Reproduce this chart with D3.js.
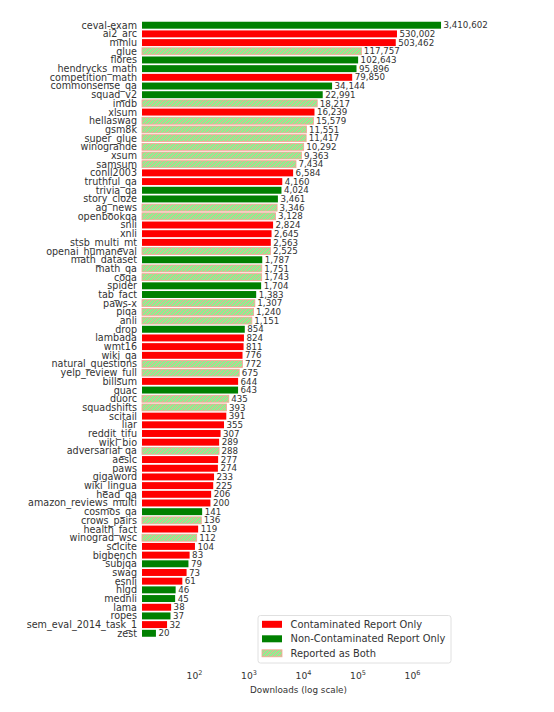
<!DOCTYPE html>
<html><head><meta charset="utf-8">
<script src="https://cdn.jsdelivr.net/npm/d3@7/dist/d3.min.js"></script>
<style>body{margin:0;background:#fff;font-family:"DejaVu Sans",sans-serif;}</style>
</head><body><svg id="chart" width="554" height="712"></svg>
<script>
const names = ["ceval-exam","ai2_arc","mmlu","glue","flores","hendrycks_math","competition_math","commonsense_qa","squad_v2","imdb","xlsum","hellaswag","gsm8k","super_glue","winogrande","xsum","samsum","conll2003","truthful_qa","trivia_qa","story_cloze","ag_news","openbookqa","snli","xnli","stsb_multi_mt","openai_humaneval","math_dataset","math_qa","coqa","spider","tab_fact","paws-x","piqa","anli","drop","lambada","wmt16","wiki_qa","natural_questions","yelp_review_full","billsum","quac","duorc","squadshifts","scitail","liar","reddit_tifu","wiki_bio","adversarial_qa","aeslc","paws","gigaword","wiki_lingua","head_qa","amazon_reviews_multi","cosmos_qa","crows_pairs","health_fact","winograd_wsc","scicite","bigbench","subjqa","swag","esnli","hlgd","mednli","lama","ropes","sem_eval_2014_task_1","zest"];
const downloads = [3410602,530002,503462,117757,102643,95896,79850,34144,22991,18217,16239,15579,11551,11417,10292,9363,7434,6584,4160,4024,3461,3346,3128,2824,2645,2563,2525,1787,1751,1743,1704,1383,1307,1240,1151,854,824,811,776,772,675,644,643,435,393,391,355,307,289,288,277,274,233,225,206,200,141,136,119,112,104,83,79,73,61,46,45,38,37,32,20];
// C = Contaminated Report Only, N = Non-Contaminated Report Only, B = Reported as Both
const status = ["N","C","C","B","N","N","C","N","N","B","C","B","B","B","B","B","B","C","C","N","N","B","B","C","C","C","B","N","B","B","N","N","B","B","B","N","C","C","C","B","B","C","N","B","B","C","C","C","C","B","C","C","C","C","C","C","N","B","C","B","C","C","N","C","C","N","N","C","N","C","N"];
const legendLabels = ["Contaminated Report Only","Non-Contaminated Report Only","Reported as Both"];
const legendKeys = ["C","N","B"];
const tickValues = [1e2,1e3,1e4,1e5,1e6];
const tickExponents = ["2","3","4","5","6"];

const data = names.map((n,i)=>({name:n, value:downloads[i], status:status[i]}));
const svg = d3.select("#chart");
const textColor = "#333";
const hatchColor = "#f7a293";

const defs = svg.append("defs");
const pat = defs.append("pattern").attr("id","hatch").attr("patternUnits","userSpaceOnUse")
  .attr("width",4).attr("height",4);
pat.append("rect").attr("width",4).attr("height",4).attr("fill","#90ee90");
pat.append("path").attr("d","M-1,1 l2,-2 M0,4 l4,-4 M3,5 l2,-2").attr("stroke",hatchColor).attr("stroke-width",0.9);

const fillFor = s => s==="C" ? "#ff0000" : s==="N" ? "#008000" : "url(#hatch)";
const strokeFor = s => s==="B" ? hatchColor : "none";

const x = d3.scaleLog().domain([11.1, 1e6]).range([142, 412]);
const y = d3.scaleBand().domain(names).range([20, 638.5]).padding(0.2);

svg.append("g").selectAll("rect").data(data).join("rect")
  .attr("x", x(11.1))
  .attr("y", d=>y(d.name))
  .attr("width", d=>x(d.value)-x(11.1))
  .attr("height", y.bandwidth())
  .attr("fill", d=>fillFor(d.status))
  .attr("stroke", d=>strokeFor(d.status))
  .attr("stroke-width", 0.8);

svg.append("g").selectAll("text").data(data).join("text")
  .attr("x", 137)
  .attr("y", d=>y(d.name)+y.bandwidth()/2)
  .attr("dy","0.36em")
  .attr("text-anchor","end")
  .attr("font-size","9.6px")
  .attr("fill", textColor)
  .text(d=>d.name);

const fmt = d3.format(",");
svg.append("g").selectAll("text").data(data).join("text")
  .attr("x", d=>x(d.value)+2.5)
  .attr("y", d=>y(d.name)+y.bandwidth()/2)
  .attr("dy","0.36em")
  .attr("font-size","8.7px")
  .attr("fill", textColor)
  .text(d=>fmt(d.value));

// x axis
const axis = d3.axisBottom(x).tickValues(tickValues).tickSize(0).tickPadding(0).tickFormat(()=> "");
const ag = svg.append("g").attr("transform","translate(0,672)").call(axis);
ag.select(".domain").remove();
ag.selectAll(".tick text").each(function(d,i){
  const t = d3.select(this).attr("fill",textColor).attr("font-size","9.2px")
    .attr("font-family","DejaVu Sans").attr("dy","0.71em");
  t.append("tspan").text("10");
  t.append("tspan").attr("font-size","6.5px").attr("dy","-0.55em").text(tickExponents[i]);
});
svg.append("text").attr("x",298.5).attr("y",693).attr("text-anchor","middle")
  .attr("font-size","8.8px").attr("fill",textColor).text("Downloads (log scale)");

// legend
const lg = svg.append("g");
lg.append("rect").attr("x",258).attr("y",615.5).attr("width",193).attr("height",47.5)
  .attr("rx",2.5).attr("fill","#fff").attr("fill-opacity",0.8).attr("stroke","#d8d8d8").attr("stroke-width",0.8);
legendKeys.forEach((k,i)=>{
  const cy = 624.3 + i*14.5;
  lg.append("rect").attr("x",262).attr("y",cy-3.5).attr("width",20).attr("height",7)
    .attr("fill",fillFor(k)).attr("stroke",strokeFor(k)).attr("stroke-width",0.8);
  lg.append("text").attr("x",290.5).attr("y",cy).attr("dy","0.36em")
    .attr("font-size","9.9px").attr("fill",textColor).text(legendLabels[i]);
});
</script></body></html>
